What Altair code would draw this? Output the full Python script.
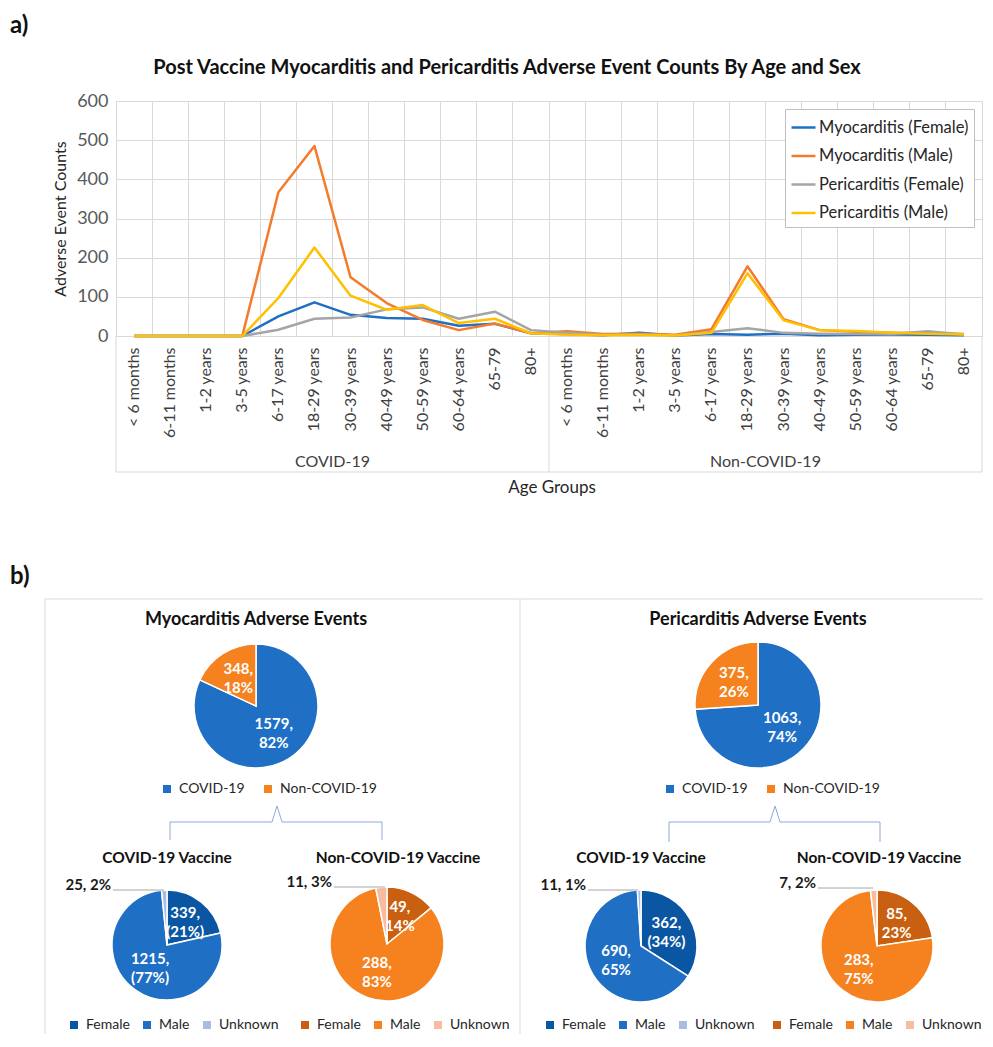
import altair as alt
import pandas as pd

FONT = "Lato"
GRID = "#d9d9d9"
DARK = "#262626"

# ---------------- data : line chart ----------------
groups = ["COVID-19", "Non-COVID-19"]
ages = ["< 6 months", "6-11 months", "1-2 years", "3-5 years", "6-17 years",
        "18-29 years", "30-39 years", "40-49 years", "50-59 years",
        "60-64 years", "65-79", "80+"]
series = ["Myocarditis (Female)", "Myocarditis (Male)",
          "Pericarditis (Female)", "Pericarditis (Male)"]
myo_female = [0, 0, 0, 0, 50, 86, 54, 46, 44, 26, 31, 7,
              5, 2, 8, 1, 5, 3, 6, 2, 3, 4, 3, 2]
myo_male = [0, 0, 0, 0, 367, 485, 150, 84, 41, 15, 32, 7,
            12, 5, 6, 3, 17, 178, 43, 15, 11, 8, 7, 5]
peri_female = [0, 0, 0, 0, 16, 44, 47, 68, 73, 44, 62, 15,
               8, 3, 4, 1, 10, 20, 8, 6, 5, 5, 12, 4]
peri_male = [0, 0, 0, 0, 97, 226, 103, 67, 79, 33, 44, 7,
             3, 2, 3, 1, 8, 160, 40, 15, 13, 8, 6, 4]
line_colors = ["#1F6FC5", "#F47A2C", "#A5A5A5", "#FFC000"]

# ---------------- data : pies ----------------
overall_cats = ["COVID-19", "Non-COVID-19"]
myo_overall = [1579, 348]
myo_overall_pct = ["82%", "18%"]
peri_overall = [1063, 375]
peri_overall_pct = ["74%", "26%"]
sex_cats = ["Female", "Male", "Unknown"]
myo_covid_sex = [339, 1215, 25]
myo_covid_pct = ["(21%)", "(77%)", "2%"]
myo_noncovid_sex = [49, 288, 11]
myo_noncovid_pct = ["14%", "83%", "3%"]
peri_covid_sex = [362, 690, 11]
peri_covid_pct = ["(34%)", "65%", "1%"]
peri_noncovid_sex = [85, 283, 7]
peri_noncovid_pct = ["23%", "75%", "2%"]

overall_colors = ["#1F6FC5", "#F5821F"]
blue_sex_colors = ["#0B56A3", "#1F6FC5", "#A9BCE3"]
orange_sex_colors = ["#C95F10", "#F5821F", "#F8BBA0"]

# ---------------- layout ----------------
OX, OY = 116, 101          # page position of the line plot origin
W, H = 866, 235
SVG_H = 1026


def X(px):
    return px - OX


def Y(py):
    return py - OY


one = pd.DataFrame({"d": [0]})


def text(s, x, y, size=15, weight="normal", color=DARK, align="center", angle=0,
         baseline="middle"):
    return alt.Chart(one).mark_text(
        text=s, font=FONT, fontSize=size, fontWeight=weight, color=color,
        align=align, baseline=baseline, angle=angle
    ).encode(x=alt.value(X(x)), y=alt.value(Y(y)))


def rule(x1, y1, x2, y2, color=GRID, width=1.0):
    return alt.Chart(one).mark_rule(color=color, strokeWidth=width).encode(
        x=alt.value(X(x1)), x2=alt.value(X(x2)),
        y=alt.value(Y(y1)), y2=alt.value(Y(y2)))


# ---------------- line chart ----------------
keys = [f"{g}|{a}" for g in groups for a in ages]
rows = []
for name, vals in zip(series, [myo_female, myo_male, peri_female, peri_male]):
    for k, v in zip(keys, vals):
        rows.append({"key": k, "series": name, "count": v})
line_df = pd.DataFrame(rows)

lines = alt.Chart(line_df).mark_line(strokeWidth=2.5, strokeJoin="round").encode(
    x=alt.X("key:N", sort=keys, bandPosition=0.5,
            scale=alt.Scale(type="band", domain=keys, paddingInner=0, paddingOuter=0),
            axis=alt.Axis(title=None, labelExpr="split(datum.label, '|')[1]",
                          labelAngle=270, labelFont=FONT, labelFontSize=16,
                          labelColor="#404040", labelPadding=11, ticks=False,
                          domainColor=GRID, grid=True, gridColor=GRID,
                          bandPosition=0, labelBound=False, labelOverlap=False)),
    y=alt.Y("count:Q", scale=alt.Scale(domain=[0, 600], nice=False),
            axis=alt.Axis(values=[0, 100, 200, 300, 400, 500, 600],
                          title="Adverse Event Counts", titleFont=FONT,
                          titleFontSize=16, titleFontWeight="normal",
                          titleColor=DARK, titlePadding=8, labelFont=FONT,
                          labelFontSize=18, labelColor="#595959", labelPadding=8,
                          domain=False, ticks=False, gridColor=GRID)),
    color=alt.Color("series:N", sort=series,
                    scale=alt.Scale(domain=series, range=line_colors),
                    legend=alt.Legend(title=None, orient="none",
                                      legendX=X(785), legendY=Y(109),
                                      symbolType="stroke", symbolSize=576,
                                      symbolStrokeWidth=2.5, labelFont=FONT,
                                      labelFontSize=16.5, labelColor=DARK,
                                      rowPadding=6.5, padding=5,
                                      strokeColor="#bfbfbf", fillColor="white",
                                      labelOffset=2)),
)

# group box below the category axis
box_bottom = OY + H + 136
group_box = [
    rule(OX, OY + H, OX, box_bottom),
    rule(OX + W / 2, OY + H, OX + W / 2, box_bottom),
    rule(OX + W, OY + H, OX + W, box_bottom),
    rule(OX, box_bottom, OX + W, box_bottom),
    text(groups[0], OX + W / 4, 462, size=16, color="#404040"),
    text(groups[1], OX + 3 * W / 4, 462, size=16, color="#404040"),
    text("Age Groups", 552, 488, size=17, color=DARK),
]

# ---------------- pies ----------------


def pie(cats, vals, pcts, colors, cx, cy, r, label_r, lx, ly, col_pad=10):
    inner = [f"{v},\n{p}" if c != "Unknown" else "" for c, v, p in zip(cats, vals, pcts)]
    df = pd.DataFrame({"cat": cats, "value": vals, "label": inner,
                       "idx": list(range(len(cats)))})
    base = alt.Chart(df).encode(
        theta=alt.Theta("value:Q", stack=True),
        order=alt.Order("idx:Q"),
        x=alt.value(X(cx)), y=alt.value(Y(cy)))
    arc = base.mark_arc(radius=r, stroke="white", strokeWidth=1.5).encode(
        color=alt.Color("cat:N", sort=cats,
                        scale=alt.Scale(domain=cats, range=colors),
                        legend=alt.Legend(title=None, orient="none",
                                          legendX=X(lx), legendY=Y(ly),
                                          direction="horizontal",
                                          symbolType="square", symbolSize=64,
                                          symbolStrokeWidth=0, labelFont=FONT,
                                          labelFontSize=14, labelColor=DARK,
                                          columnPadding=col_pad, labelOffset=5,
                                          padding=0)))
    lab = base.mark_text(radius=label_r, font=FONT, fontSize=15, fontWeight="bold",
                         color="white", lineBreak="\n", lineHeight=19,
                         dy=-9.5).encode(
        text="label:N", detail="cat:N")
    return [arc, lab]


def outer(cats, vals, pcts, tx, ty, lx2, ly):
    i = cats.index("Unknown")
    return [text(f"{vals[i]}, {pcts[i]}", tx, ty, size=15, weight="bold",
                 color="#1a1a1a", align="right"),
            rule(tx + 2, ly, lx2, ly, color="#a6a6a6", width=1)]


LEG_Y = 1018
pies = []
pies += pie(overall_cats, myo_overall, myo_overall_pct, overall_colors,
            256, 706, 62, 33, 160, 782, col_pad=16)
pies += pie(overall_cats, peri_overall, peri_overall_pct, overall_colors,
            758, 705, 63, 33, 663, 782, col_pad=16)
pies += pie(sex_cats, myo_covid_sex, myo_covid_pct, blue_sex_colors,
            167, 945, 55, 29, 67, LEG_Y)
pies += pie(sex_cats, myo_noncovid_sex, myo_noncovid_pct, orange_sex_colors,
            387, 944, 57, 30, 298, LEG_Y)
pies += pie(sex_cats, peri_covid_sex, peri_covid_pct, blue_sex_colors,
            641, 946, 56, 29, 543, LEG_Y)
pies += pie(sex_cats, peri_noncovid_sex, peri_noncovid_pct, orange_sex_colors,
            877, 946, 56, 30, 770, LEG_Y)

outers = []
outers += outer(sex_cats, myo_covid_sex, myo_covid_pct, 111, 885, 164, 890)
outers += outer(sex_cats, myo_noncovid_sex, myo_noncovid_pct, 332, 882, 385, 887)
outers += outer(sex_cats, peri_covid_sex, peri_covid_pct, 586, 885, 638, 890)
outers += outer(sex_cats, peri_noncovid_sex, peri_noncovid_pct, 816, 883, 873, 888)

BRACE = "#8EA9DB"


def brace(x1, xm, x2, y_line, y_end, y_peak):
    return [rule(x1, y_line, x1, y_end, BRACE), rule(x2, y_line, x2, y_end, BRACE),
            rule(x1, y_line, xm - 5, y_line, BRACE), rule(xm + 5, y_line, x2, y_line, BRACE),
            rule(xm - 5, y_line, xm, y_peak, BRACE), rule(xm, y_peak, xm + 5, y_line, BRACE)]


decor = [
    text("a)", 10, 26, size=24, weight="bold", color="#111111", align="left"),
    text("Post Vaccine Myocarditis and Pericarditis Adverse Event Counts By Age and Sex",
         507, 68, size=20, weight="bold", color="#111111"),
    text("b)", 10, 577, size=24, weight="bold", color="#111111", align="left"),
    alt.Chart(one).mark_rect(filled=False, stroke=GRID, strokeWidth=1).encode(
        x=alt.value(X(45)), x2=alt.value(X(1000)),
        y=alt.value(Y(599)), y2=alt.value(Y(1100))),
    rule(520, 599, 520, 1100),
    text("Myocarditis Adverse Events", 256, 620, size=18, weight="bold", color="#111111"),
    text("Pericarditis Adverse Events", 758, 620, size=18, weight="bold", color="#111111"),
    text("COVID-19 Vaccine", 167, 858, size=15.5, weight="bold", color="#111111"),
    text("Non-COVID-19 Vaccine", 398, 858, size=15.5, weight="bold", color="#111111"),
    text("COVID-19 Vaccine", 641, 858, size=15.5, weight="bold", color="#111111"),
    text("Non-COVID-19 Vaccine", 879, 858, size=15.5, weight="bold", color="#111111"),
]
decor += brace(170, 277, 382, 822, 840, 806)
decor += brace(669, 775, 880, 822, 842, 806)

chart = alt.layer(lines, *group_box, *decor, *pies, *outers).resolve_scale(
    theta="independent", color="independent"
).properties(
    width=W, height=H,
    autosize=alt.AutoSizeParams(type="none"),
    padding={"left": OX - 8, "top": OY - 8, "right": 1,
             "bottom": SVG_H - (OY - 8) - H},
).configure_view(stroke=GRID)

chart.save("out.html", embed_options={"renderer": "svg", "actions": False})
